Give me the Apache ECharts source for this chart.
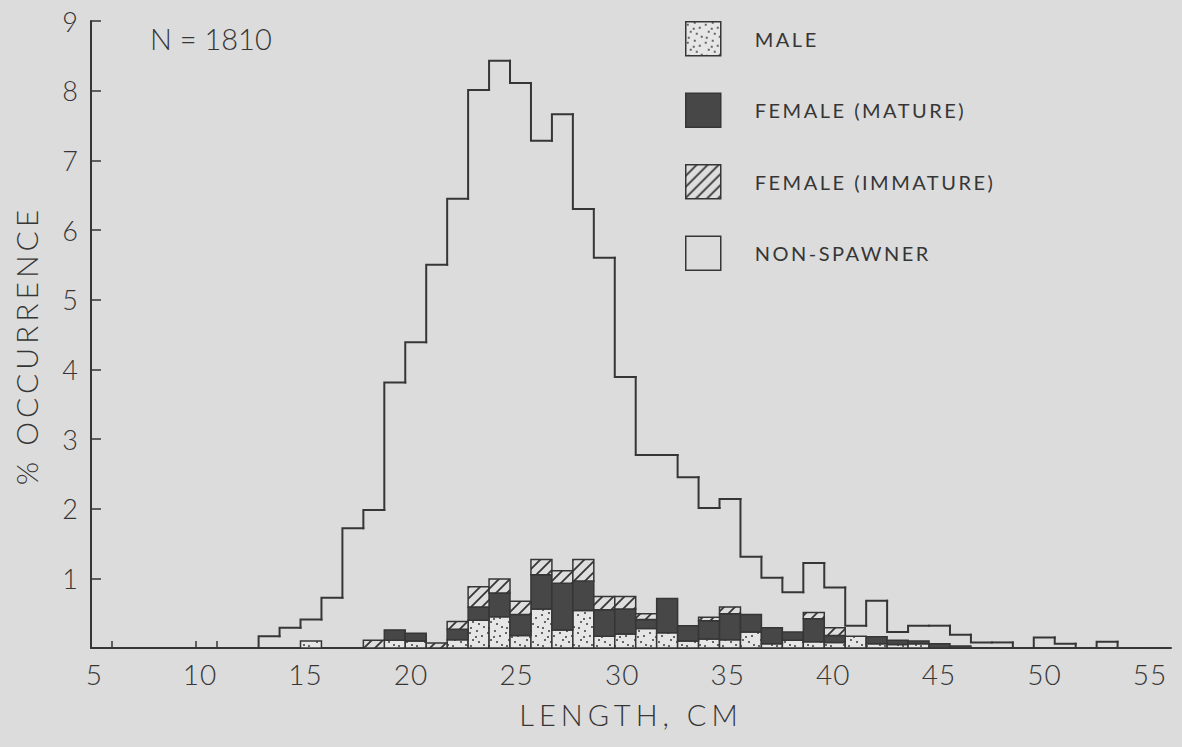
<!DOCTYPE html>
<html>
<head>
<meta charset="utf-8">
<title>Length frequency by maturity class</title>
<script src="https://cdn.jsdelivr.net/npm/echarts@6.0.0/dist/echarts.min.js"></script>
<style>
  html, body { margin: 0; padding: 0; background: #dcdcdc; }
  #chart { width: 1182px; height: 747px; }
</style>
</head>
<body>
<div id="chart"></div>
<script>
// Lower bound (cm) of each 1-cm length class
const binStart = [13, 14, 15, 16, 17, 18, 19, 20, 21, 22,
                  23, 24, 25, 26, 27, 28, 29, 30, 31, 32,
                  33, 34, 35, 36, 37, 38, 39, 40, 41, 42,
                  43, 44, 45, 46, 47, 48, 49, 50, 51, 52, 53];
// % occurrence of all fish in each class (histogram outline)
const total = [0.17, 0.29, 0.41, 0.72, 1.72, 1.98, 3.81, 4.39, 5.50, 6.45,
               8.01, 8.43, 8.11, 7.28, 7.66, 6.30, 5.60, 3.89, 2.77, 2.77,
               2.45, 2.01, 2.14, 1.31, 1.01, 0.80, 1.22, 0.87, 0.32, 0.68,
               0.23, 0.32, 0.32, 0.19, 0.08, 0.08, 0.00, 0.15, 0.06, 0.00, 0.09];
// Spawner components, stacked from the baseline in this order
const male = [0, 0, 0.10, 0, 0, 0, 0.11, 0.10, 0, 0.12,
              0.40, 0.45, 0.18, 0.56, 0.26, 0.54, 0.17, 0.20, 0.28, 0.22,
              0.10, 0.13, 0.12, 0.23, 0.06, 0.11, 0.09, 0.08, 0.17, 0.06,
              0.05, 0.06, 0, 0, 0, 0, 0, 0, 0, 0, 0];
const femaleMature = [0, 0, 0, 0, 0, 0, 0.15, 0.11, 0, 0.15,
                      0.19, 0.34, 0.30, 0.49, 0.67, 0.42, 0.38, 0.36, 0.13, 0.49,
                      0.22, 0.26, 0.37, 0.25, 0.23, 0.12, 0.33, 0.10, 0, 0.10,
                      0.06, 0.04, 0.06, 0.03, 0, 0, 0, 0, 0, 0, 0];
const femaleImmature = [0, 0, 0, 0, 0, 0.11, 0, 0, 0.07, 0.11,
                        0.29, 0.20, 0.19, 0.22, 0.18, 0.31, 0.19, 0.18, 0.08, 0,
                        0, 0.05, 0.10, 0, 0, 0, 0.09, 0.11, 0, 0,
                        0, 0, 0, 0, 0, 0, 0, 0, 0, 0, 0];
const xTickLabels = [5, 10, 15, 20, 25, 30, 35, 40, 45, 50, 55];
const xMinorTicks = [6, 10, 11];
const sampleSize = 1810;

const INK = '#363636';
const FONT = 'Lato';

// Fill textures
function makeTile(size, paint) {
  const c = document.createElement('canvas');
  c.width = size; c.height = size;
  paint(c.getContext('2d'), size);
  return { image: c, repeat: 'repeat', imageWidth: size, imageHeight: size };
}
const stipple = makeTile(18, (g, s) => {
  g.fillStyle = '#e6e6e6'; g.fillRect(0, 0, s, s);
  g.fillStyle = '#3a3a3a';
  [[2, 3], [9, 1], [14, 6], [5, 10], [11, 12], [16, 15], [3, 16], [8, 7]].forEach(([x, y]) => {
    g.beginPath(); g.arc(x, y, 1, 0, Math.PI * 2); g.fill();
  });
});
const hatch = makeTile(11, (g, s) => {
  g.fillStyle = '#dedede'; g.fillRect(0, 0, s, s);
  g.strokeStyle = INK; g.lineWidth = 1.8;
  g.beginPath();
  g.moveTo(0, s); g.lineTo(s, 0);
  g.moveTo(-2, 2); g.lineTo(2, -2);
  g.moveTo(s - 2, s + 2); g.lineTo(s + 2, s - 2);
  g.stroke();
});
const solidDark = '#474747';

// Stacked blocks: [binStart, lower, upper]
const maleData = [], matureData = [], immatureData = [];
binStart.forEach((x, i) => {
  const a = male[i], b = a + femaleMature[i], c = b + femaleImmature[i];
  if (male[i] > 0) maleData.push([x, 0, a]);
  if (femaleMature[i] > 0) matureData.push([x, a, b]);
  if (femaleImmature[i] > 0) immatureData.push([x, b, c]);
});
// Outline pieces: [binStart, previous height, height]
const outlineData = binStart.map((x, i) => [x, i ? total[i - 1] : 0, total[i]]);
outlineData.push([binStart[binStart.length - 1] + 1, total[total.length - 1], 0]);

function blockRenderer(fill) {
  return function (params, api) {
    const x = api.value(0);
    const p0 = api.coord([x, api.value(2)]);
    const p1 = api.coord([x + 1, api.value(1)]);
    return {
      type: 'rect',
      shape: { x: p0[0], y: p0[1], width: p1[0] - p0[0], height: p1[1] - p0[1] },
      style: { fill: fill, stroke: INK, lineWidth: 1.5 }
    };
  };
}
function outlineRenderer(params, api) {
  const x = api.value(0);
  const a = api.coord([x, api.value(1)]);
  const b = api.coord([x, api.value(2)]);
  const c = api.coord([x + 1, api.value(2)]);
  return {
    type: 'polyline',
    shape: { points: [a, b, c] },
    style: { fill: 'none', stroke: INK, lineWidth: 2, lineCap: 'square' }
  };
}

function blockSeries(name, data, fill) {
  return {
    name: name, type: 'custom', xAxisIndex: 0, yAxisIndex: 0,
    data: data, encode: { x: 0, y: [1, 2] },
    itemStyle: { color: fill, borderColor: INK, borderWidth: 1.5 },
    renderItem: blockRenderer(fill)
  };
}

const chart = echarts.init(document.getElementById('chart'), null, { renderer: 'svg' });
chart.setOption({
  backgroundColor: '#dcdcdc',
  animation: false,
  grid: { left: 91, right: 11, top: 21, bottom: 99 },
  xAxis: [
    {
      // length scale of the bins
      type: 'value', min: 5, max: 56.55, position: 'bottom',
      axisLine: { show: true, lineStyle: { color: INK, width: 2 } },
      axisTick: { show: true, inside: true, length: 7, customValues: xMinorTicks,
                  lineStyle: { color: INK, width: 1.5 } },
      axisLabel: { show: false },
      splitLine: { show: false }
    },
    {
      // lettered scale
      type: 'value', min: 4.844, max: 55.99, position: 'bottom',
      axisLine: { show: false }, axisTick: { show: false }, splitLine: { show: false },
      axisLabel: { show: true, customValues: xTickLabels, margin: 12,
                   fontFamily: FONT, fontWeight: 300, fontSize: 28, color: INK },
      name: 'LENGTH, CM', nameLocation: 'middle', nameGap: 52,
      nameTextStyle: { fontFamily: FONT, fontWeight: 300, fontSize: 29, color: INK }
    }
  ],
  yAxis: {
    type: 'value', min: 0, max: 9, interval: 1,
    axisLine: { show: true, lineStyle: { color: INK, width: 2 } },
    axisTick: { show: true, inside: true, length: 10, lineStyle: { color: INK, width: 1.5 } },
    axisLabel: { margin: 12, fontFamily: FONT, fontWeight: 300, fontSize: 27, color: INK,
                 formatter: v => (v === 0 ? '' : String(v)) },
    splitLine: { show: false },
    name: '% OCCURRENCE', nameLocation: 'middle', nameGap: 50,
    nameTextStyle: { fontFamily: FONT, fontWeight: 300, fontSize: 30, color: INK,
                     padding: [0, 22, 0, 0] }
  },
  legend: {
    orient: 'vertical', left: 685, top: 21, padding: 0,
    itemWidth: 35, itemHeight: 34, itemGap: 36,
    icon: 'rect', selectedMode: false,
    itemStyle: { borderColor: INK, borderWidth: 1.5 },
    textStyle: { fontFamily: FONT, fontSize: 20, color: INK, padding: [0, 0, 0, 29] },
    data: ['MALE', 'FEMALE (MATURE)', 'FEMALE (IMMATURE)', 'NON-SPAWNER']
  },
  graphic: [{
    type: 'text', left: 150, top: 24,
    style: { text: 'N = ' + sampleSize, font: '300 29px Lato', fill: INK }
  }],
  series: [
    blockSeries('MALE', maleData, stipple),
    blockSeries('FEMALE (MATURE)', matureData, solidDark),
    blockSeries('FEMALE (IMMATURE)', immatureData, hatch),
    {
      name: 'NON-SPAWNER', type: 'custom', xAxisIndex: 0, yAxisIndex: 0,
      data: outlineData, encode: { x: 0, y: [1, 2] },
      itemStyle: { color: 'rgba(0,0,0,0)', borderColor: INK, borderWidth: 1.5 },
      renderItem: outlineRenderer, z: 3
    }
  ]
});

// Hand-lettered spacing for the text
function spaceLetters() {
  chart.getDom().querySelectorAll('text').forEach(t => {
    const s = t.textContent;
    let ls = 1;
    if (/LENGTH/.test(s)) ls = 5;
    else if (/OCCURRENCE/.test(s)) ls = 4;
    else if (/^[A-Z()\- ]+$/.test(s)) ls = 2.5;
    else if (/^N/.test(s)) ls = 0;
    t.setAttribute('letter-spacing', ls + 'px');
  });
}
spaceLetters();
chart.on('finished', spaceLetters);
</script>
</body>
</html>
